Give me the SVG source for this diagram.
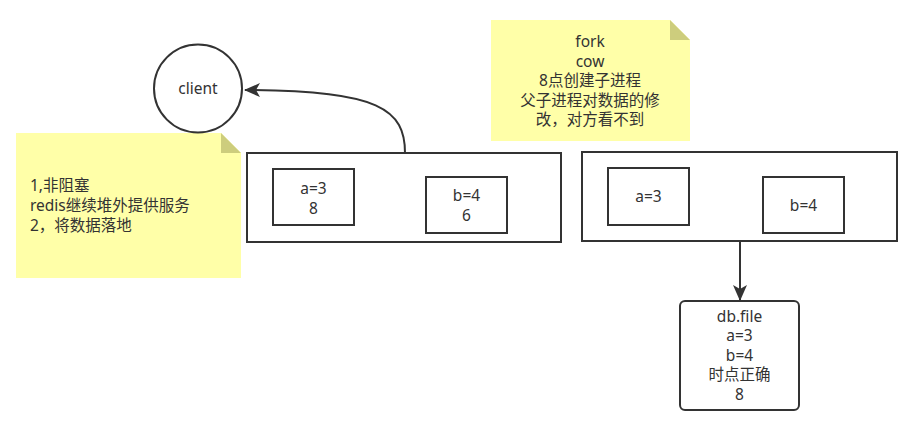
<svg xmlns="http://www.w3.org/2000/svg" width="912" height="428" viewBox="0 0 912 428">
<style>
text{font-family:"Noto Sans","Noto Sans CJK SC",sans-serif;font-size:15.5px;fill:#333333}
.c{text-anchor:middle}
.note{fill:#ffffa8}
.fold{fill:#cdcd7d}
.box{fill:#ffffff;stroke:#333333;stroke-width:2}
.edge{fill:none;stroke:#333333;stroke-width:2}
</style>
<defs>
<marker id="arr" markerWidth="16" markerHeight="14" refX="15" refY="7" orient="auto" markerUnits="userSpaceOnUse">
<path d="M0,0 L16,7 L0,14 L4,7 Z" fill="#333333"/>
</marker>
</defs>
<rect width="912" height="428" fill="#ffffff"/>
<g id="note-left">
<path class="note" d="M16,133 H221 L241,153 V278 H16 Z"/>
<path class="fold" d="M221,133 L241,153 H221 Z"/>
<text x="30" y="191">1,非阻塞</text>
<text x="30" y="211">redis继续堆外提供服务</text>
<text x="30" y="231">2，将数据落地</text>
</g>
<g id="note-top">
<path class="note" d="M491,20 H670 L690,40 V141 H491 Z"/>
<path class="fold" d="M670,20 L690,40 H670 Z"/>
<text class="c" x="590" y="47">fork</text>
<text class="c" x="590" y="66.5">cow</text>
<text class="c" x="590" y="86">8点创建子进程</text>
<text class="c" x="590" y="105.5">父子进程对数据的修</text>
<text class="c" x="590" y="125">改，对方看不到</text>
</g>
<g id="client">
<circle class="box" cx="198" cy="88.5" r="44"/>
<text class="c" x="198" y="94">client</text>
</g>
<g id="parent">
<rect class="box" x="247" y="153" width="314" height="89"/>
</g>
<g id="parent-a">
<rect class="box" x="273" y="169" width="81" height="56"/>
<text class="c" x="313.5" y="194">a=3</text>
<text class="c" x="313.5" y="214">8</text>
</g>
<g id="parent-b">
<rect class="box" x="426" y="177" width="81" height="56"/>
<text class="c" x="466.5" y="201">b=4</text>
<text class="c" x="466.5" y="221">6</text>
</g>
<g id="child">
<rect class="box" x="582" y="152" width="315" height="89"/>
</g>
<g id="child-a">
<rect class="box" x="608" y="168" width="81" height="57"/>
<text class="c" x="648.5" y="202">a=3</text>
</g>
<g id="child-b">
<rect class="box" x="763" y="177" width="81" height="56"/>
<text class="c" x="803.5" y="211">b=4</text>
</g>
<g id="dbfile">
<rect class="box" x="680" y="301" width="119" height="109" rx="5" ry="5"/>
<text class="c" x="739.5" y="321.5">db.file</text>
<text class="c" x="739.5" y="341">a=3</text>
<text class="c" x="739.5" y="360.5">b=4</text>
<text class="c" x="739.5" y="380">时点正确</text>
<text class="c" x="739.5" y="399.5">8</text>
</g>
<g id="connectors">
<path class="edge" d="M405,153 C405,110 380,90 245,90" marker-end="url(#arr)"/>
<path class="edge" d="M740,241 V300" marker-end="url(#arr)"/>
</g>
</svg>
